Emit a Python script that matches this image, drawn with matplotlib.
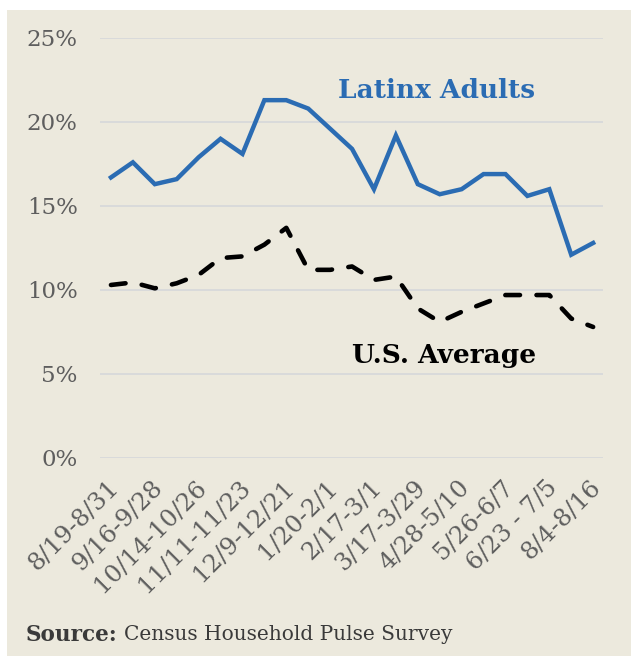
import matplotlib
matplotlib.use("Agg")
import matplotlib.pyplot as plt
from matplotlib.patches import Rectangle
from matplotlib.transforms import ScaledTranslation

periods = ["8/19-8/31", "", "9/16-9/28", "", "10/14-10/26", "", "11/11-11/23", "",
           "12/9-12/21", "", "1/20-2/1", "", "2/17-3/1", "", "3/17-3/29", "",
           "4/28-5/10", "", "5/26-6/7", "", "6/23 - 7/5", "", "8/4-8/16"]
latinx = [16.7, 17.6, 16.3, 16.6, 17.9, 19.0, 18.1, 21.3, 21.3, 20.8, 19.6, 18.4,
          16.0, 19.2, 16.3, 15.7, 16.0, 16.9, 16.9, 15.6, 16.0, 12.1, 12.8]
us_avg = [10.3, 10.45, 10.1, 10.4, 10.9, 11.9, 12.0, 12.7, 13.7, 11.2, 11.2, 11.4,
          10.6, 10.8, 8.9, 8.1, 8.7, 9.2, 9.7, 9.7, 9.7, 8.3, 7.8]
yticks = [0, 5, 10, 15, 20, 25]

BG = "#ECE9DD"
BLUE = "#2B6CB3"
GREY = "#5E5E5E"
SERIF = ["DejaVu Serif"]

fig = plt.figure(figsize=(6.31, 6.56), dpi=100)
fig.patch.set_facecolor("white")
fig.patches.append(Rectangle((7 / 631, 0), 1, 1 - 10 / 656, transform=fig.transFigure,
                             facecolor=BG, edgecolor="none", zorder=-10))

ax = fig.add_axes([100 / 631, 1 - 458 / 656, 503 / 631, 420 / 656])
ax.set_facecolor("none")
x = list(range(len(latinx)))

ax.plot(x, latinx, color=BLUE, lw=3.2, solid_joinstyle="miter", zorder=3)
ax.plot(x, us_avg, color="black", lw=3.3, dashes=(3.2, 3.6),
        dash_capstyle="round", zorder=3)

ax.set_xlim(-0.5, 22.45)
ax.set_ylim(0, 25)
ax.set_yticks(yticks)
ax.set_yticklabels([f"{v}%" for v in yticks], fontsize=16.5, color=GREY, family=SERIF)
ax.grid(axis="y", color="#D8D9DA", lw=1.3)
ax.set_axisbelow(True)
ax.tick_params(axis="y", length=0, pad=16)
ax.tick_params(axis="x", length=0, pad=13)
ax.set_xticks(x)
ax.set_xticklabels(periods, rotation=45, ha="right", rotation_mode="anchor",
                   fontsize=17.5, color=GREY, family=SERIF)
shift = ScaledTranslation(-4 / 100, 0, fig.dpi_scale_trans)
for lbl in ax.get_xticklabels():
    lbl.set_transform(lbl.get_transform() + shift)
for s in ax.spines.values():
    s.set_visible(False)

ax.text(14.86, 21.9, "Latinx Adults", color=BLUE, fontsize=19, fontweight="bold",
        family=SERIF, ha="center", va="center")
ax.text(15.2, 6.1, "U.S. Average", color="black", fontsize=19, fontweight="bold",
        family=SERIF, ha="center", va="center")

fig.text(26 / 631, 1 - 635 / 656, "Source:", fontsize=15.5, fontweight="bold",
         color="#3A3A3A", family=SERIF, va="center")
fig.text(124 / 631, 1 - 635 / 656, "Census Household Pulse Survey", fontsize=14.5,
         color="#3A3A3A", family=SERIF, va="center")

fig.savefig("out.png", dpi=100, facecolor=fig.get_facecolor())
